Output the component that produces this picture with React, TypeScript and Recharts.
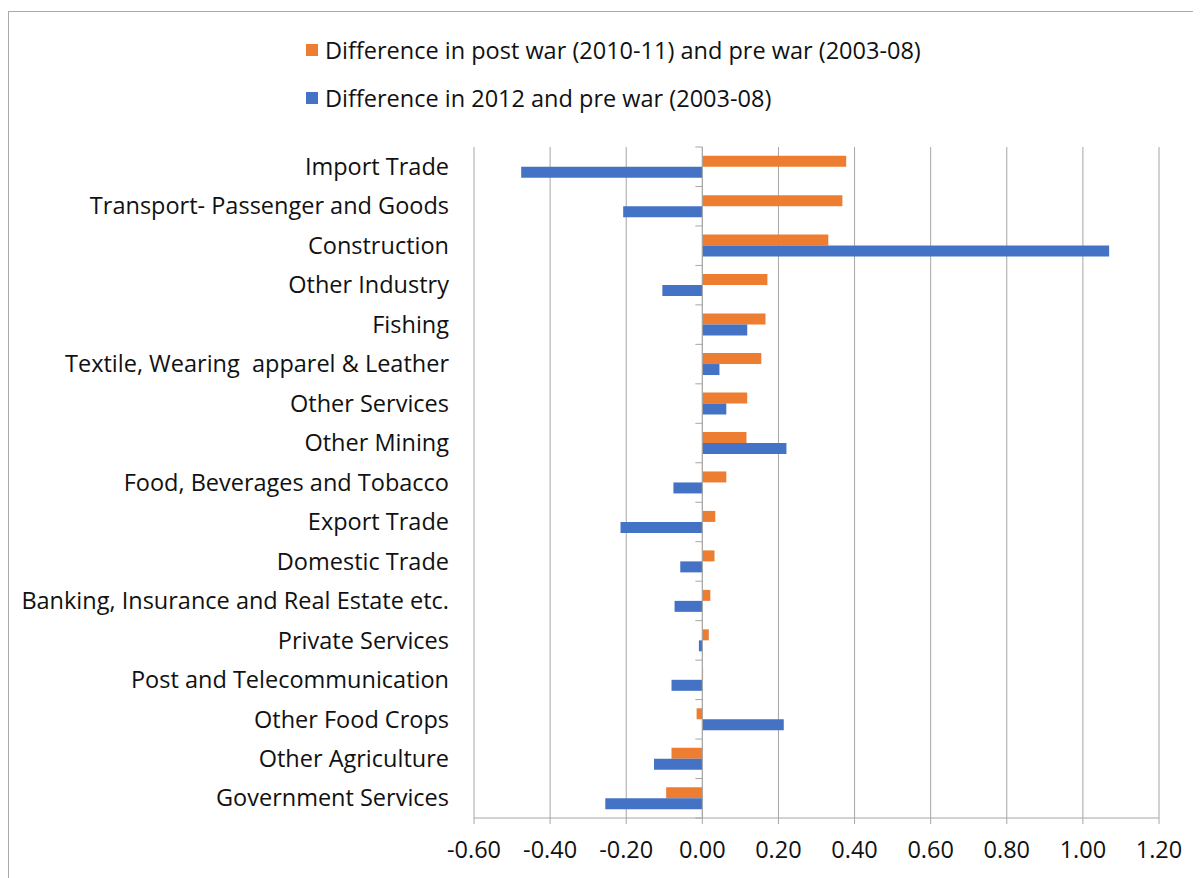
import { BarChart, Bar, XAxis, YAxis, CartesianGrid, ReferenceLine, Legend } from 'recharts';

// Sectors, top to bottom
const categories = [
  'Import Trade',
  'Transport- Passenger and Goods',
  'Construction',
  'Other Industry',
  'Fishing',
  'Textile, Wearing  apparel & Leather',
  'Other Services',
  'Other Mining',
  'Food, Beverages and Tobacco',
  'Export Trade',
  'Domestic Trade',
  'Banking, Insurance and Real Estate etc.',
  'Private Services',
  'Post and Telecommunication',
  'Other Food Crops',
  'Other Agriculture',
  'Government Services',
];

// Difference in post war (2010-11) and pre war (2003-08)
const postWarDiff = [0.378, 0.368, 0.331, 0.171, 0.166, 0.155, 0.118, 0.116, 0.063, 0.034, 0.032, 0.021, 0.017, 0.002, -0.015, -0.081, -0.095];
// Difference in 2012 and pre war (2003-08)
const diff2012 = [-0.476, -0.208, 1.069, -0.105, 0.118, 0.045, 0.063, 0.221, -0.076, -0.215, -0.058, -0.073, -0.009, -0.081, 0.214, -0.127, -0.255];

const xTicks = [-0.6, -0.4, -0.2, 0, 0.2, 0.4, 0.6, 0.8, 1.0, 1.2];

const ORANGE = '#ED7D31';
const BLUE = '#4472C4';
const GRID = '#a6a6a6';
const FONT = '"Open Sans", sans-serif';
const NARROW_FONT = '"Liberation Sans Narrow", "Open Sans", sans-serif';
const FONT_SIZE = 23.5;

const series = [
  { key: 'postWar', name: 'Difference in post war (2010-11) and pre war (2003-08)', color: ORANGE },
  { key: 'y2012', name: 'Difference in 2012 and pre war (2003-08)', color: BLUE },
];

const data = categories.map((name, i) => ({ name, postWar: postWarDiff[i], y2012: diff2012[i] }));

// layout
const CHART_W = 1192;
const CHART_H = 867;
const Y_AXIS_W = 465;
const X_AXIS_H = 50;
const MARGIN = { top: 135, right: 42, bottom: 11, left: 0 };
const PLOT_LEFT = MARGIN.left + Y_AXIS_W;
const PLOT_W = CHART_W - PLOT_LEFT - MARGIN.right;
const PLOT_H = CHART_H - MARGIN.top - MARGIN.bottom - X_AXIS_H;
const X_MIN = xTicks[0];
const X_MAX = xTicks[xTicks.length - 1];
const BAND = PLOT_H / categories.length;

// category label on the left + small tick marks on the zero axis
const CategoryTick = (props: any) => {
  const { x, y, payload, index } = props;
  const zeroX = PLOT_LEFT + ((0 - X_MIN) / (X_MAX - X_MIN)) * PLOT_W;
  const half = BAND / 2;
  return (
    <g>
      <text
        x={x}
        y={y}
        dy="0.35em"
        textAnchor="end"
        fontFamily={FONT}
        fontSize={FONT_SIZE}
        fill="#111"
        style={{ whiteSpace: 'pre' }}
      >
        {payload.value}
      </text>
      <line x1={zeroX - 7} x2={zeroX} y1={y - half} y2={y - half} stroke={GRID} />
      {index === categories.length - 1 && (
        <line x1={zeroX - 7} x2={zeroX} y1={y + half} y2={y + half} stroke={GRID} />
      )}
    </g>
  );
};

const renderLegend = () => (
  <div style={{ fontFamily: FONT, fontSize: FONT_SIZE, color: '#111' }}>
    {series.map((s) => (
      <div key={s.key} style={{ display: 'flex', alignItems: 'center', height: 48 }}>
        <span style={{ display: 'inline-block', width: 12, height: 12, background: s.color, marginRight: 7 }} />
        <span>{s.name}</span>
      </div>
    ))}
  </div>
);

export default function App() {
  return (
    <div style={{ marginTop: 3, width: 1200, height: 880, border: '1px solid #aaa', background: '#fff' }}>
      <BarChart
        width={CHART_W}
        height={CHART_H}
        data={data}
        layout="vertical"
        margin={MARGIN}
        barCategoryGap="22%"
        barGap={0}
      >
        <CartesianGrid horizontal={false} stroke={GRID} />
        <XAxis
          type="number"
          domain={[X_MIN, X_MAX]}
          ticks={xTicks}
          height={X_AXIS_H}
          tickFormatter={(v: number) => v.toFixed(2)}
          axisLine={{ stroke: GRID }}
          tickLine={{ stroke: GRID }}
          tickSize={6}
          tickMargin={17}
          tick={{ fontFamily: NARROW_FONT, fontSize: FONT_SIZE, fill: '#111' }}
        />
        <YAxis
          type="category"
          dataKey="name"
          width={Y_AXIS_W}
          interval={0}
          axisLine={false}
          tickLine={false}
          tickSize={0}
          tickMargin={25}
          tick={<CategoryTick />}
        />
        <ReferenceLine x={0} stroke={GRID} />
        <Legend
          layout="horizontal"
          align="center"
          verticalAlign="middle"
          wrapperStyle={{ top: 14, left: 297, width: 800 }}
          content={renderLegend}
        />
        {series.map((s) => (
          <Bar key={s.key} dataKey={s.key} name={s.name} fill={s.color} isAnimationActive={false} />
        ))}
      </BarChart>
    </div>
  );
}
